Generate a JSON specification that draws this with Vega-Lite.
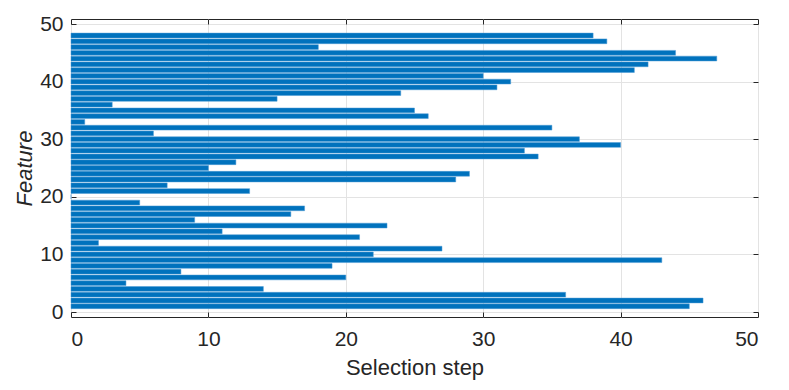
{
  "$schema": "https://vega.github.io/schema/vega-lite/v6.json",
  "width": 687,
  "height": 298,
  "autosize": "none",
  "padding": {"left": 71, "top": 19, "right": 31, "bottom": 73},
  "background": "white",
  "config": {
    "font": "Liberation Sans",
    "view": {"stroke": "#262626", "strokeWidth": 1},
    "axis": {
      "labelFont": "Liberation Sans",
      "titleFont": "Liberation Sans",
      "labelColor": "#262626",
      "titleColor": "#262626",
      "labelFontSize": 21,
      "titleFontSize": 22,
      "titleFontWeight": "normal",
      "domain": false,
      "gridColor": "#e3e3e3",
      "gridWidth": 1,
      "tickColor": "#262626",
      "tickSize": -5
    }
  },
  "data": {"values": [
    {"feature": 1, "step": 45}, {"feature": 2, "step": 46}, {"feature": 3, "step": 36},
    {"feature": 4, "step": 14}, {"feature": 5, "step": 4}, {"feature": 6, "step": 20},
    {"feature": 7, "step": 8}, {"feature": 8, "step": 19}, {"feature": 9, "step": 43},
    {"feature": 10, "step": 22}, {"feature": 11, "step": 27}, {"feature": 12, "step": 2},
    {"feature": 13, "step": 21}, {"feature": 14, "step": 11}, {"feature": 15, "step": 23},
    {"feature": 16, "step": 9}, {"feature": 17, "step": 16}, {"feature": 18, "step": 17},
    {"feature": 19, "step": 5}, {"feature": 20, "step": 0}, {"feature": 21, "step": 13},
    {"feature": 22, "step": 7}, {"feature": 23, "step": 28}, {"feature": 24, "step": 29},
    {"feature": 25, "step": 10}, {"feature": 26, "step": 12}, {"feature": 27, "step": 34},
    {"feature": 28, "step": 33}, {"feature": 29, "step": 40}, {"feature": 30, "step": 37},
    {"feature": 31, "step": 6}, {"feature": 32, "step": 35}, {"feature": 33, "step": 1},
    {"feature": 34, "step": 26}, {"feature": 35, "step": 25}, {"feature": 36, "step": 3},
    {"feature": 37, "step": 15}, {"feature": 38, "step": 24}, {"feature": 39, "step": 31},
    {"feature": 40, "step": 32}, {"feature": 41, "step": 30}, {"feature": 42, "step": 41},
    {"feature": 43, "step": 42}, {"feature": 44, "step": 47}, {"feature": 45, "step": 44},
    {"feature": 46, "step": 18}, {"feature": 47, "step": 39}, {"feature": 48, "step": 38}
  ]},
  "layer": [
    {
      "mark": {"type": "bar", "orient": "horizontal", "size": 4.8, "color": "#0072BD", "stroke": "#4d9bd4", "strokeWidth": 0.5},
      "encoding": {
        "x": {"field": "step", "type": "quantitative", "scale": {"domain": [0, 50], "nice": false},
              "axis": {"title": "Selection step", "values": [0, 10, 20, 30, 40, 50], "labelPadding": 16, "titlePadding": 8}},
        "y": {"field": "feature", "type": "quantitative", "scale": {"domain": [0, 50], "nice": false},
              "axis": {"title": "Feature", "titleFontStyle": "italic", "values": [0, 10, 20, 30, 40, 50], "labelPadding": 13, "titlePadding": 3}}
      }
    },
    {
      "mark": {"type": "bar", "orient": "horizontal", "size": 0, "opacity": 0},
      "encoding": {
        "x": {"field": "step", "type": "quantitative", "scale": {"domain": [0, 50], "nice": false},
              "axis": {"orient": "top", "title": null, "labels": false, "grid": false, "values": [0, 10, 20, 30, 40, 50]}},
        "y": {"field": "feature", "type": "quantitative", "scale": {"domain": [0, 50], "nice": false},
              "axis": {"orient": "right", "title": null, "labels": false, "grid": false, "values": [0, 10, 20, 30, 40, 50]}}
      }
    }
  ],
  "resolve": {"axis": {"x": "independent", "y": "independent"}}
}
